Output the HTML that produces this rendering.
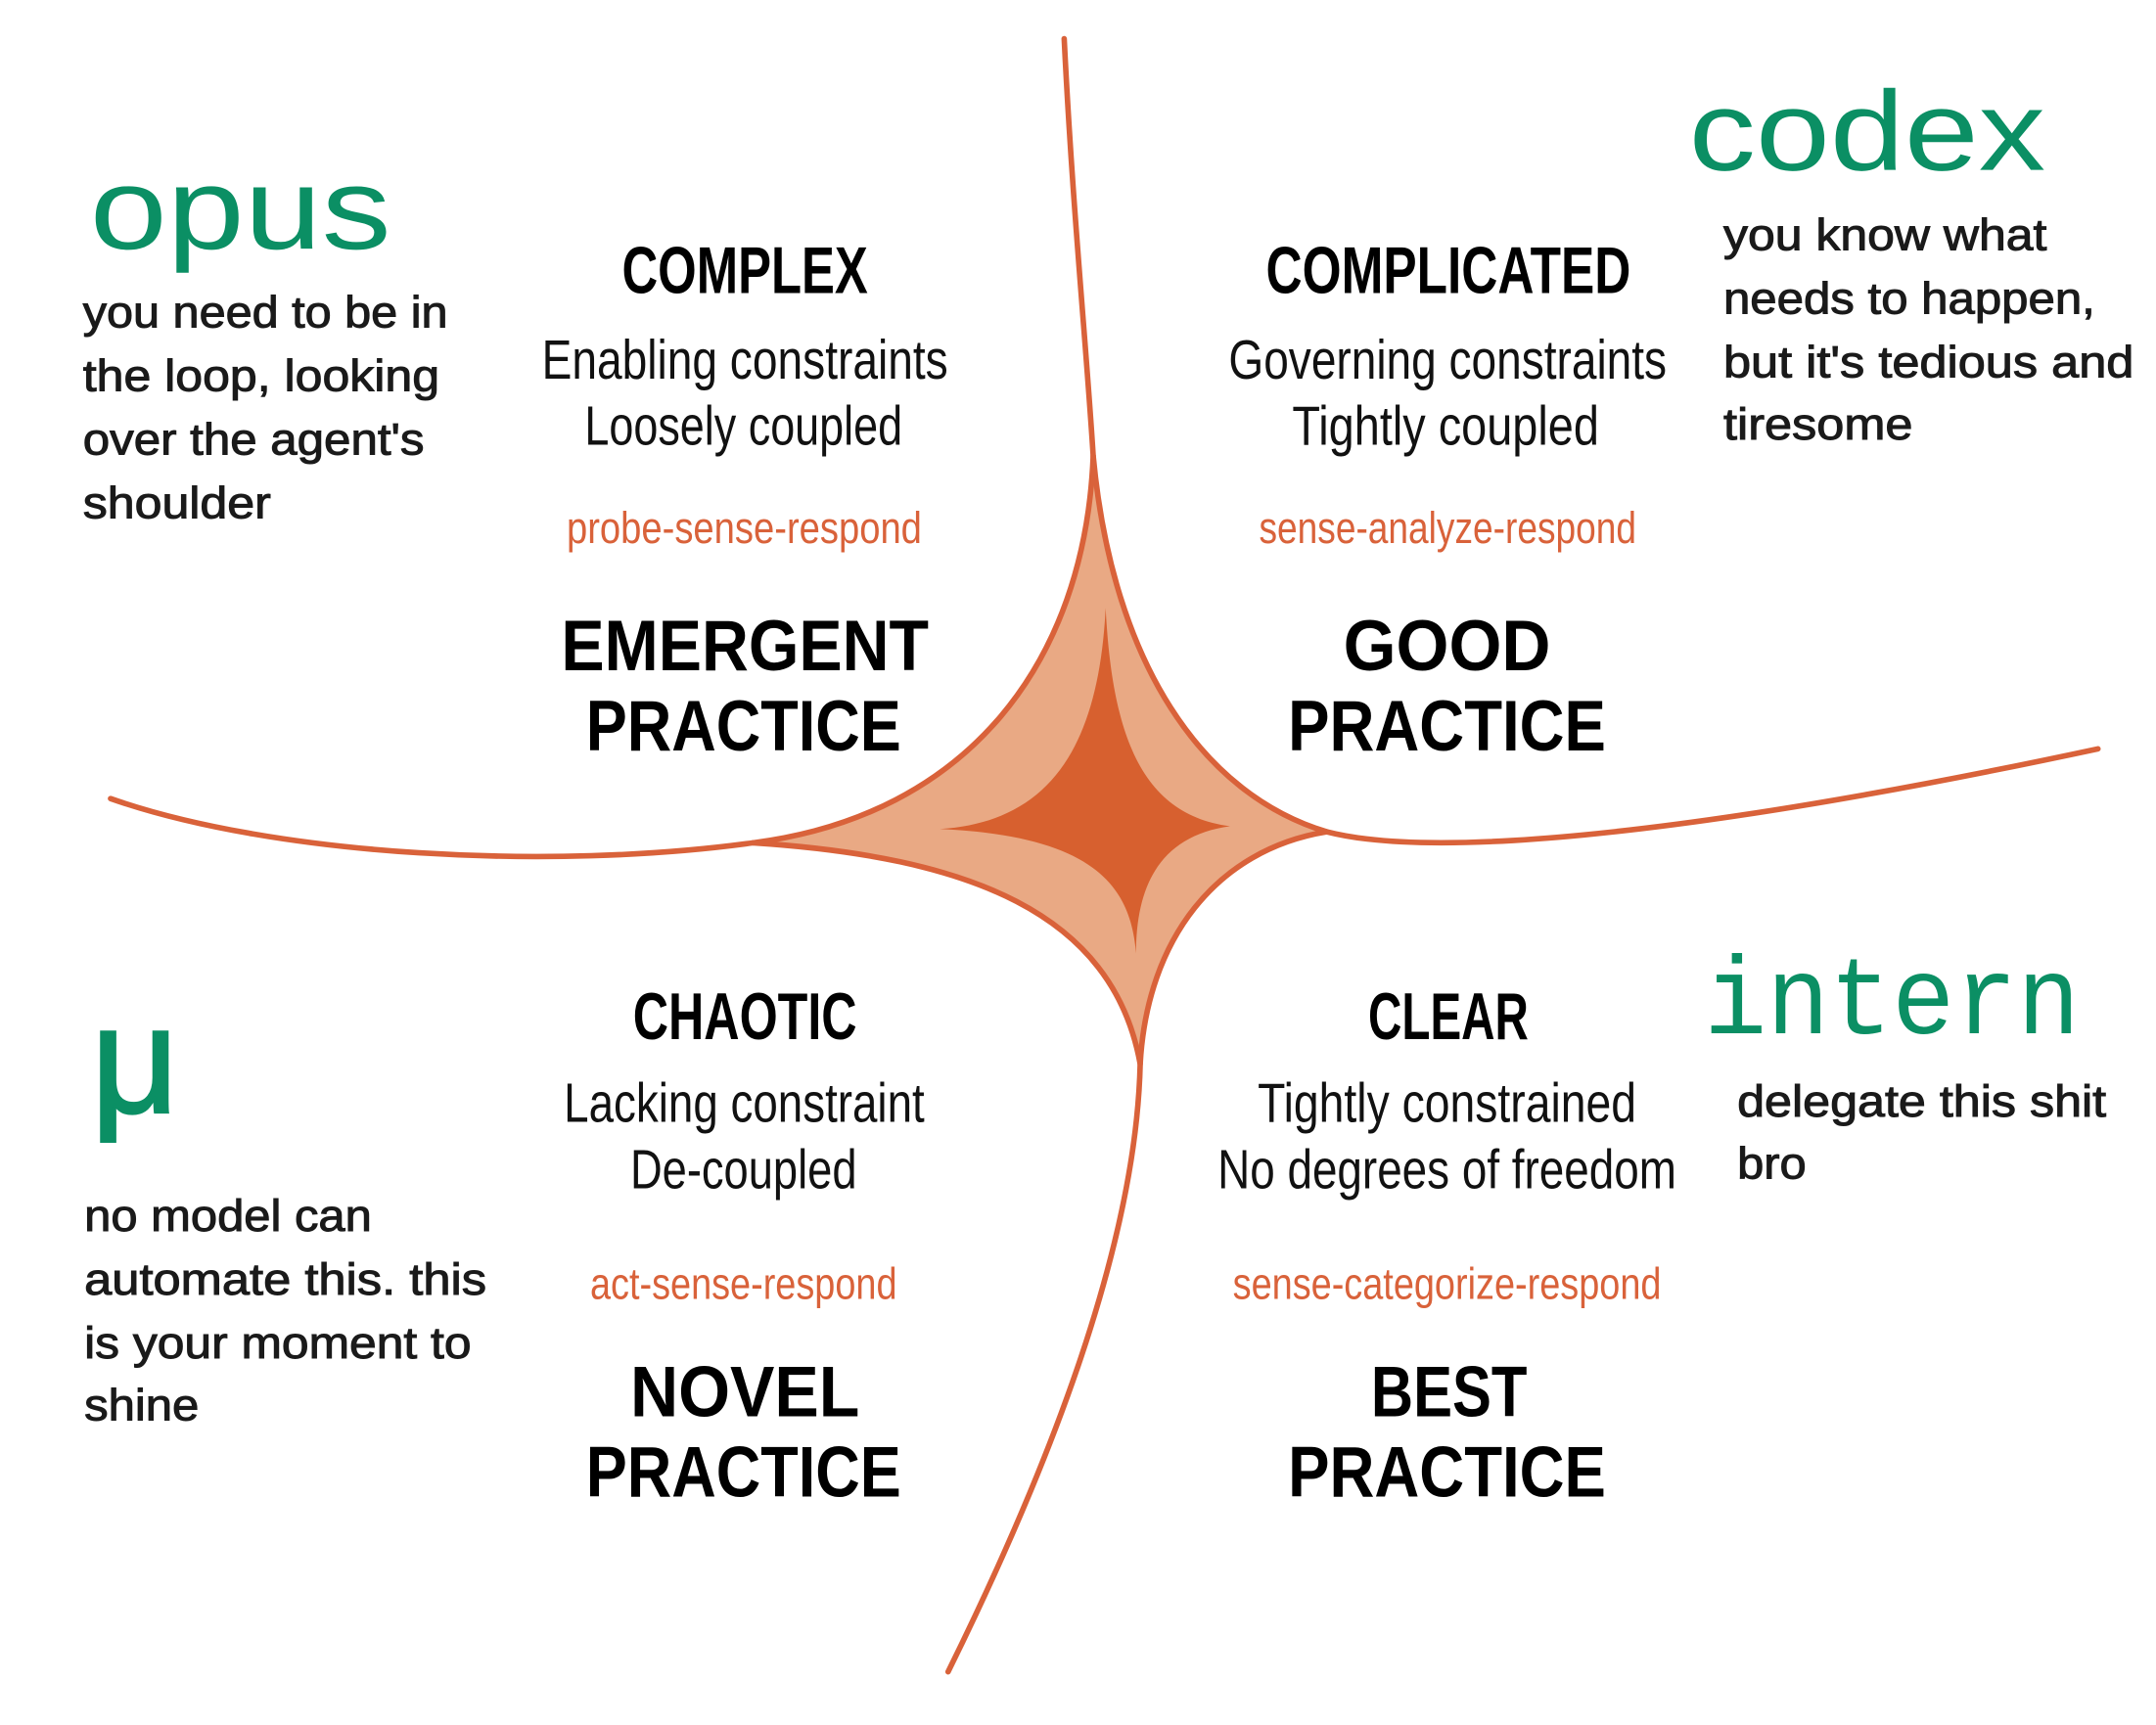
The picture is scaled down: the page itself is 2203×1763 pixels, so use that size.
<!DOCTYPE html>
<html><head><meta charset="utf-8"><style>
html,body{margin:0;padding:0;background:#fff;}
svg{display:block;}
.g{fill:#0b8f64;font-family:"Liberation Sans",sans-serif;}
.d{fill:#1a1a1a;stroke:#1a1a1a;stroke-width:0.7;font-family:"Liberation Sans",sans-serif;font-size:32px;}
.h{fill:#000;font-family:"Liberation Sans",sans-serif;font-weight:bold;}
.l{fill:#111;font-family:"Liberation Sans",sans-serif;font-size:40px;}
.o{fill:#d9623a;font-family:"Liberation Sans",sans-serif;font-size:32px;}
</style></head><body>
<svg width="2203" height="1763" viewBox="0 0 1560 1248.5" preserveAspectRatio="none" xmlns="http://www.w3.org/2000/svg">
<rect width="1560" height="1249" fill="#fff"/>
<path d="M791,330 C805,480 870,575 960,602 C880,615 830,680 825,770 C810,670 720,620 545,610 C700,590 785,480 791,330 Z" fill="#e9a984"/>
<path d="M800,440 C805,540 830,590 890,598 C840,605 822,640 822,690 C818,640 790,605 680,600 C760,595 795,540 800,440 Z" fill="#d7602f"/>
<g fill="none" stroke="#d9623a" stroke-width="4" stroke-linecap="round">
<path d="M770,28 C776,150 786,250 791,330 C805,480 870,575 960,602 C1030,620 1200,610 1518,542"/>
<path d="M80,578 C200,620 400,630 545,610 C700,590 785,480 791,330"/>
<path d="M545,610 C700,620 805,660 825,770"/>
<path d="M960,602 C880,615 830,680 825,770 C822,900 760,1060 686,1210"/>
</g>
<text class="g" x="65" y="180" font-size="84" textLength="218" lengthAdjust="spacingAndGlyphs">opus</text>
<text class="d" x="60" y="237" textLength="264" lengthAdjust="spacingAndGlyphs">you need to be in</text>
<text class="d" x="60" y="283" textLength="258" lengthAdjust="spacingAndGlyphs">the loop, looking</text>
<text class="d" x="60" y="329" textLength="247" lengthAdjust="spacingAndGlyphs">over the agent's</text>
<text class="d" x="60" y="375" textLength="136" lengthAdjust="spacingAndGlyphs">shoulder</text>
<text class="g" x="1222" y="123" font-size="82" textLength="258" lengthAdjust="spacingAndGlyphs">codex</text>
<text class="d" x="1247" y="181" textLength="234" lengthAdjust="spacingAndGlyphs">you know what</text>
<text class="d" x="1247" y="227" textLength="269" lengthAdjust="spacingAndGlyphs">needs to happen,</text>
<text class="d" x="1247" y="273" textLength="297" lengthAdjust="spacingAndGlyphs">but it's tedious and</text>
<text class="d" x="1247" y="318" textLength="137" lengthAdjust="spacingAndGlyphs">tiresome</text>
<text class="g" x="66" y="805" font-size="110" style="stroke:#0b8f64;stroke-width:2">μ</text>
<text class="d" x="61" y="891" textLength="208" lengthAdjust="spacingAndGlyphs">no model can</text>
<text class="d" x="61" y="937" textLength="291" lengthAdjust="spacingAndGlyphs">automate this. this</text>
<text class="d" x="61" y="983" textLength="280" lengthAdjust="spacingAndGlyphs">is your moment to</text>
<text class="d" x="61" y="1028" textLength="83" lengthAdjust="spacingAndGlyphs">shine</text>
<text class="g" x="1233" y="748" font-size="80" style="font-family:'Liberation Mono',monospace" textLength="272" lengthAdjust="spacingAndGlyphs">intern</text>
<text class="d" x="1257" y="808" textLength="267" lengthAdjust="spacingAndGlyphs">delegate this shit</text>
<text class="d" x="1257" y="853" textLength="50" lengthAdjust="spacingAndGlyphs">bro</text>

<text class="h" x="450" y="212" font-size="48" textLength="178" lengthAdjust="spacingAndGlyphs">COMPLEX</text>
<text class="l" x="392" y="274" textLength="294" lengthAdjust="spacingAndGlyphs">Enabling constraints</text>
<text class="l" x="423" y="322" textLength="230" lengthAdjust="spacingAndGlyphs">Loosely coupled</text>
<text class="o" x="410" y="393" textLength="257" lengthAdjust="spacingAndGlyphs">probe-sense-respond</text>
<text class="h" x="406" y="485" font-size="52" textLength="266" lengthAdjust="spacingAndGlyphs">EMERGENT</text>
<text class="h" x="424" y="543" font-size="52" textLength="228" lengthAdjust="spacingAndGlyphs">PRACTICE</text>

<text class="h" x="916" y="212" font-size="48" textLength="264" lengthAdjust="spacingAndGlyphs">COMPLICATED</text>
<text class="l" x="889" y="274" textLength="317" lengthAdjust="spacingAndGlyphs">Governing constraints</text>
<text class="l" x="935" y="322" textLength="222" lengthAdjust="spacingAndGlyphs">Tightly coupled</text>
<text class="o" x="911" y="393" textLength="273" lengthAdjust="spacingAndGlyphs">sense-analyze-respond</text>
<text class="h" x="972" y="485" font-size="52" textLength="150" lengthAdjust="spacingAndGlyphs">GOOD</text>
<text class="h" x="932" y="543" font-size="52" textLength="230" lengthAdjust="spacingAndGlyphs">PRACTICE</text>

<text class="h" x="458" y="752" font-size="48" textLength="162" lengthAdjust="spacingAndGlyphs">CHAOTIC</text>
<text class="l" x="408" y="812" textLength="261" lengthAdjust="spacingAndGlyphs">Lacking constraint</text>
<text class="l" x="456" y="860" textLength="164" lengthAdjust="spacingAndGlyphs">De-coupled</text>
<text class="o" x="427" y="940" textLength="222" lengthAdjust="spacingAndGlyphs">act-sense-respond</text>
<text class="h" x="456" y="1025" font-size="52" textLength="166" lengthAdjust="spacingAndGlyphs">NOVEL</text>
<text class="h" x="424" y="1083" font-size="52" textLength="228" lengthAdjust="spacingAndGlyphs">PRACTICE</text>

<text class="h" x="990" y="752" font-size="48" textLength="116" lengthAdjust="spacingAndGlyphs">CLEAR</text>
<text class="l" x="910" y="812" textLength="274" lengthAdjust="spacingAndGlyphs">Tightly constrained</text>
<text class="l" x="881" y="860" textLength="332" lengthAdjust="spacingAndGlyphs">No degrees of freedom</text>
<text class="o" x="892" y="940" textLength="310" lengthAdjust="spacingAndGlyphs">sense-categorize-respond</text>
<text class="h" x="992" y="1025" font-size="52" textLength="113" lengthAdjust="spacingAndGlyphs">BEST</text>
<text class="h" x="932" y="1083" font-size="52" textLength="230" lengthAdjust="spacingAndGlyphs">PRACTICE</text>
</svg>
</body></html>
